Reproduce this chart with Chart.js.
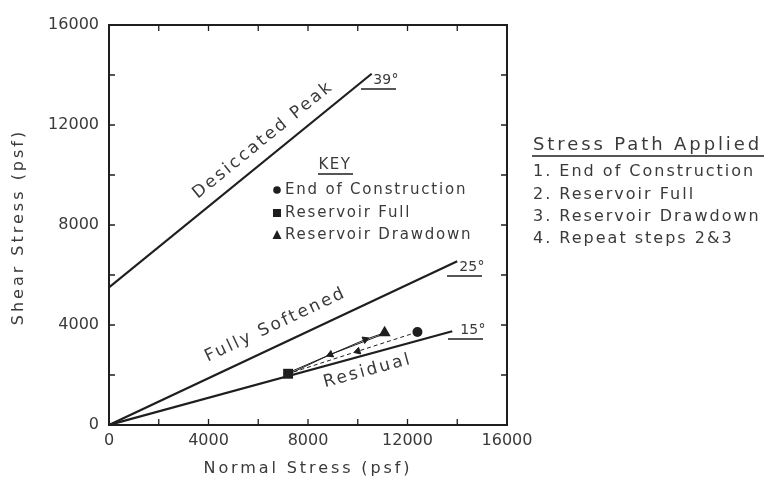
<!DOCTYPE html>
<html>
<head>
<meta charset="utf-8">
<script src="https://cdn.jsdelivr.net/npm/chart.js@4.4.1/dist/chart.umd.min.js"></script>
<style>
  html, body { margin: 0; padding: 0; background: #fff; }
  #wrap { width: 764px; height: 479px; }
</style>
</head>
<body>
<div id="wrap"><canvas id="chart"></canvas></div>
<script>
// Strength envelopes (normal stress, shear stress in psf)
const peakX = [0, 10560];
const peakY = [5500, 14050];
const softX = [0, 14000];
const softY = [0, 6550];
const resX = [0, 13800];
const resY = [0, 3750];

// Stress path states
const constructionPt = [12400, 3720];
const fullPt = [7200, 2050];
const drawdownPt = [11080, 3690];

// Stress path legs (middle point carries the arrow)
const leg1X = [12400, 10000, 7200];   // end of construction -> reservoir full
const leg1Y = [3720, 2950, 2050];
const leg2X = [7200, 10300, 11080];   // reservoir full -> drawdown
const leg2Y = [2090, 3420, 3690];
const leg3X = [11020, 8900, 7200];    // drawdown -> reservoir full
const leg3Y = [3630, 2820, 2020];

const xTicks = [0, 4000, 8000, 12000, 16000];
const yTicks = [0, 4000, 8000, 12000, 16000];
const minorStep = 2000;

const INK = '#1e1e1e';
const TEXT = '#3a3a3a';
const FONT = '"DejaVu Sans", sans-serif';

const pts = (xs, ys) => xs.map((x, i) => ({ x, y: ys[i] }));

function pathRotation(c) {
    const d = c.dataset.data, s = c.chart.scales;
    const a = d[0], b = d[d.length - 1];
    const dx = s.x.getPixelForValue(b.x) - s.x.getPixelForValue(a.x);
    const dy = s.y.getPixelForValue(b.y) - s.y.getPixelForValue(a.y);
    return Math.atan2(dx, -dy) * 180 / Math.PI;
}

const envelope = (xs, ys) => ({
    data: pts(xs, ys), showLine: true, borderColor: INK, borderWidth: 2.2,
    pointRadius: 0, fill: false
});

const leg = (xs, ys, dash) => ({
    data: pts(xs, ys), showLine: true, borderColor: INK, borderWidth: 1,
    borderDash: dash, pointRadius: [0, 4, 0], pointStyle: 'triangle',
    pointBackgroundColor: INK, pointBorderColor: INK, pointBorderWidth: 1,
    pointRotation: pathRotation
});

const marker = (p, style, r) => ({
    data: [{ x: p[0], y: p[1] }], pointStyle: style, pointRadius: r,
    pointBackgroundColor: INK, pointBorderColor: INK, borderWidth: 0
});

function text(ctx, str, x, y, size, spacing, align) {
    ctx.font = size + 'px ' + FONT;
    ctx.letterSpacing = spacing + 'px';
    ctx.textAlign = align || 'center';
    ctx.textBaseline = 'middle';
    ctx.fillText(str, x, y);
}

function hline(ctx, x1, x2, y) {
    ctx.beginPath();
    ctx.moveTo(x1, y);
    ctx.lineTo(x2, y);
    ctx.stroke();
}

// Frame, inward ticks and all annotations
const annotate = {
    id: 'annotate',
    afterDatasetsDraw(chart) {
        const { ctx, chartArea: a } = chart;
        const sx = chart.scales.x, sy = chart.scales.y;
        ctx.save();
        ctx.strokeStyle = INK;
        ctx.fillStyle = TEXT;

        // box + ticks
        ctx.lineWidth = 2;
        ctx.strokeRect(a.left, a.top, a.right - a.left, a.bottom - a.top);
        ctx.lineWidth = 1.3;
        ctx.beginPath();
        for (let v = minorStep; v < 16000; v += minorStep) {
            const x = sx.getPixelForValue(v), y = sy.getPixelForValue(v);
            ctx.moveTo(x, a.bottom); ctx.lineTo(x, a.bottom - 6);
            ctx.moveTo(x, a.top); ctx.lineTo(x, a.top + 6);
            ctx.moveTo(a.left, y); ctx.lineTo(a.left + 6, y);
            ctx.moveTo(a.right, y); ctx.lineTo(a.right - 6, y);
        }
        ctx.stroke();

        // axis titles
        text(ctx, 'Normal Stress (psf)', 308, 469, 16, 2.9);
        ctx.save();
        ctx.translate(19, 227);
        ctx.rotate(-Math.PI / 2);
        text(ctx, 'Shear Stress (psf)', 0, 0, 16, 3);
        ctx.restore();

        // envelope names along the lines
        const along = (str, xs, ys, at, size, spacing) => {
            const ang = Math.atan2(sy.getPixelForValue(ys[1]) - sy.getPixelForValue(ys[0]),
                                   sx.getPixelForValue(xs[1]) - sx.getPixelForValue(xs[0]));
            ctx.save();
            ctx.translate(sx.getPixelForValue(at[0]), sy.getPixelForValue(at[1]));
            ctx.rotate(ang);
            text(ctx, str, 0, 0, size, spacing);
            ctx.restore();
        };
        along('Desiccated Peak', peakX, peakY, [6200, 11400], 17, 2.4);
        along('Fully Softened', softX, softY, [6700, 4000], 17, 2.4);
        along('Residual', resX, resY, [10400, 2160], 17, 2.4);

        // friction angles
        ctx.lineWidth = 1.3;
        const angle = (str, x, y) => {
            text(ctx, str, x, y, 14, 0.3);
            hline(ctx, x - 25, x + 10, y + 9);
        };
        angle('39°', 386, 80);
        angle('25°', 472, 267);
        angle('15°', 473, 330);

        // key
        text(ctx, 'KEY', 335, 165, 15, 1.5);
        hline(ctx, 318, 353, 174);
        ctx.fillStyle = INK;
        ctx.beginPath(); ctx.arc(277, 190, 3.8, 0, Math.PI * 2); ctx.fill();
        ctx.fillRect(273, 209, 8, 8);
        ctx.beginPath(); ctx.moveTo(277, 230); ctx.lineTo(281.5, 239); ctx.lineTo(272.5, 239); ctx.closePath(); ctx.fill();
        ctx.fillStyle = TEXT;
        text(ctx, 'End of Construction', 285, 190, 15, 1.8, 'left');
        text(ctx, 'Reservoir Full', 285, 213, 15, 1.8, 'left');
        text(ctx, 'Reservoir Drawdown', 285, 235, 15, 1.8, 'left');

        // stress path description
        text(ctx, 'Stress Path Applied', 533, 145, 18, 2.9, 'left');
        hline(ctx, 532, 764, 156);
        text(ctx, '1. End of Construction', 533, 172, 16, 2, 'left');
        text(ctx, '2. Reservoir Full', 533, 195, 16, 2, 'left');
        text(ctx, '3. Reservoir Drawdown', 533, 217, 16, 2, 'left');
        text(ctx, '4. Repeat steps 2&3', 533, 239, 16, 2, 'left');

        ctx.restore();
    }
};

const axis = (ticks, pad, fit) => ({
    type: 'linear', min: 0, max: 16000,
    afterBuildTicks: s => { s.ticks = ticks.map(v => ({ value: v })); },
    afterFit: fit,
    grid: { display: false, drawTicks: false },
    border: { display: false },
    ticks: {
        color: TEXT, padding: pad, font: { family: 'DejaVu Sans', size: 16 },
        callback: v => String(v)
    }
});

new Chart(document.getElementById('chart'), {
    type: 'scatter',
    data: {
        datasets: [
            envelope(peakX, peakY),
            envelope(softX, softY),
            envelope(resX, resY),
            leg(leg1X, leg1Y, [4, 3]),
            leg(leg2X, leg2Y, []),
            leg(leg3X, leg3Y, []),
            marker(constructionPt, 'circle', 5),
            marker(fullPt, 'rect', 7),
            marker(drawdownPt, 'triangle', 7)
        ]
    },
    options: {
        responsive: true,
        maintainAspectRatio: false,
        animation: false,
        events: [],
        layout: { padding: { top: 25, right: 257, left: 0, bottom: 0 } },
        plugins: { legend: { display: false }, tooltip: { enabled: false } },
        scales: {
            x: axis(xTicks, 6, s => { s.height = 54; }),
            y: axis(yTicks, 10, s => { s.width = 109; })
        }
    },
    plugins: [annotate]
});
</script>
</body>
</html>
